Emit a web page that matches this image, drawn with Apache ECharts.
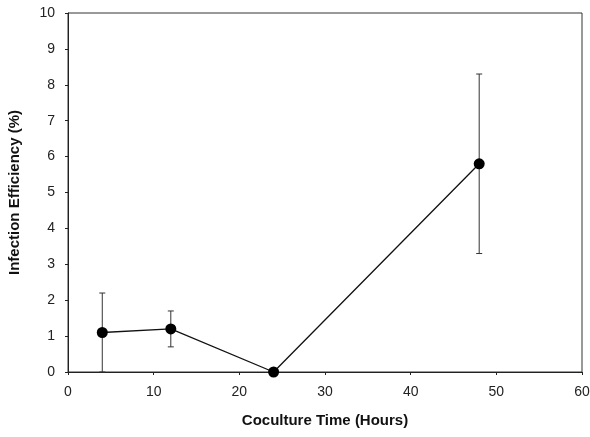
<!DOCTYPE html>
<html>
<head>
<meta charset="utf-8">
<script src="https://cdn.jsdelivr.net/npm/echarts@6/dist/echarts.min.js"></script>
<style>
  html, body { margin: 0; padding: 0; background: #fff; }
  #chart { width: 590px; height: 437px; }
</style>
</head>
<body>
<div id="chart"></div>
<script>
// coculture time (hours) vs infection efficiency (%)
const hours = [4, 12, 24, 48]
const efficiency = [1.1, 1.2, 0, 5.8]
const errLow = [0, 0.7, 0, 3.3]
const errHigh = [2.2, 1.7, 0, 8.3]

const chart = echarts.init(document.getElementById('chart'))

const font = 'Liberation Sans, Arial, sans-serif'

const option = {
  animation: false,
  grid: {
    left: 68,
    right: 8,
    top: 13,
    bottom: 65,
    outerBoundsMode: 'none',
    containLabel: false,
    show: true,
    borderColor: '#333',
    borderWidth: 1
  },
  xAxis: {
    type: 'value',
    min: 0,
    max: 60,
    interval: 10,
    name: 'Coculture Time (Hours)',
    nameLocation: 'middle',
    nameGap: 41,
    nameTextStyle: { fontFamily: font, fontSize: 15, fontWeight: 'bold', color: '#111' },
    axisLine: { show: true, lineStyle: { color: '#222', width: 1 } },
    axisTick: { show: true, length: 3, lineStyle: { color: '#222' } },
    axisLabel: { fontFamily: font, fontSize: 14, color: '#222', margin: 13 },
    splitLine: { show: false }
  },
  yAxis: {
    type: 'value',
    min: 0,
    max: 10,
    interval: 1,
    name: 'Infection Efficiency (%)',
    nameLocation: 'middle',
    nameGap: 46,
    nameTextStyle: { fontFamily: font, fontSize: 15, fontWeight: 'bold', color: '#111' },
    axisLine: { show: true, lineStyle: { color: '#222', width: 1 } },
    axisTick: { show: true, length: 3, lineStyle: { color: '#222' } },
    axisLabel: { fontFamily: font, fontSize: 14, color: '#222', margin: 13 },
    splitLine: { show: false }
  },
  series: [
    {
      // error bars
      type: 'custom',
      data: hours.map((h, i) => [h, errLow[i], errHigh[i]]),
      renderItem: function(params, api) {
        const x = api.value(0)
        const lo = api.coord([x, api.value(1)])
        const hi = api.coord([x, api.value(2)])
        const cap = 3
        const style = { stroke: '#333', lineWidth: 1 }
        return {
          type: 'group',
          children: [
            { type: 'line', shape: { x1: lo[0], y1: lo[1], x2: hi[0], y2: hi[1] }, style: style },
            { type: 'line', shape: { x1: hi[0] - cap, y1: hi[1], x2: hi[0] + cap, y2: hi[1] }, style: style },
            { type: 'line', shape: { x1: lo[0] - cap, y1: lo[1], x2: lo[0] + cap, y2: lo[1] }, style: style }
          ]
        }
      },
      z: 1
    },
    {
      type: 'line',
      data: hours.map((h, i) => [h, efficiency[i]]),
      symbol: 'circle',
      symbolSize: 11,
      itemStyle: { color: '#000' },
      lineStyle: { color: '#111', width: 1.3 },
      z: 2
    }
  ]
}

chart.setOption(option)
</script>
</body>
</html>
